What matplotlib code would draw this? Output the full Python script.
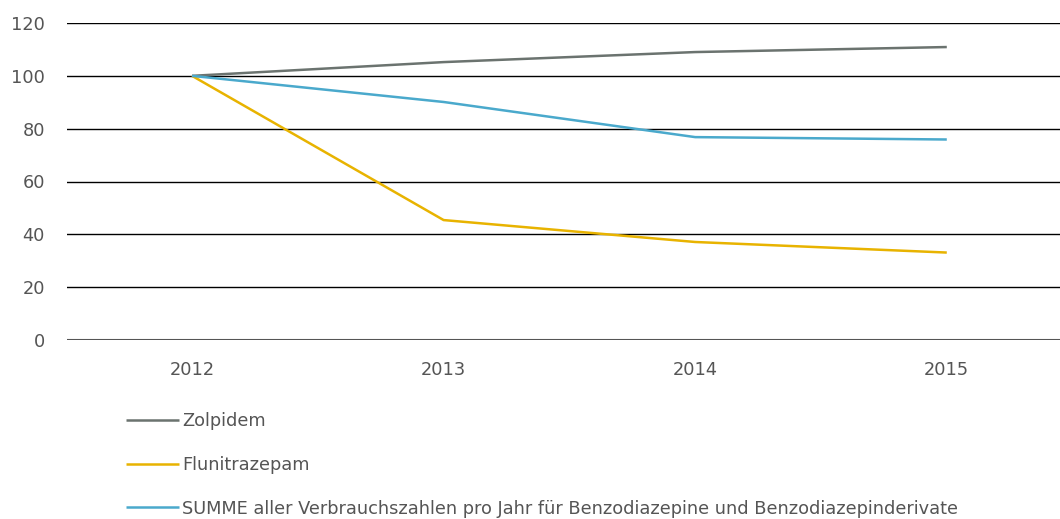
import matplotlib
matplotlib.use('Agg')
import matplotlib.pyplot as plt

years = ['2012', '2013', '2014', '2015']
zolpidem = [100, 105.2, 109.0, 110.9]
flunitrazepam = [100, 45.4, 37.1, 33.1]
summe = [100, 90.1, 76.8, 75.9]
labels = ['Zolpidem', 'Flunitrazepam',
          'SUMME aller Verbrauchszahlen pro Jahr für Benzodiazepine und Benzodiazepinderivate']
colors = ['#6b736f', '#e8b300', '#4aa9cc']

plt.rcParams['font.family'] = ['DejaVu Sans']

fig = plt.figure(figsize=(10.6, 5.19), dpi=100)
ax = fig.add_axes([67 / 1060, (519 - 340) / 519, 1 - 67 / 1060, (340 - 23) / 519])

x = range(len(years))
lines = []
for vals, c, lab in zip([zolpidem, flunitrazepam, summe], colors, labels):
    l, = ax.plot(x, vals, color=c, lw=1.8, label=lab, solid_capstyle='butt')
    lines.append(l)

ax.set_ylim(0, 120)
ax.set_xlim(-0.497, 3.45)
ax.set_yticks(range(0, 121, 20))
ax.set_xticks(list(x))
ax.set_xticklabels(years)
for yv in range(20, 121, 20):
    ax.axhline(yv, color='black', lw=1, zorder=0)
ax.axhline(0, color='#555555', lw=1.5, zorder=0)
for s in ax.spines.values():
    s.set_visible(False)
ax.tick_params(length=0, colors='#555555', labelsize=12.8)
ax.tick_params(axis='y', pad=16)
ax.tick_params(axis='x', pad=15)

fig.legend(handles=lines, loc='upper left', bbox_to_anchor=(110 / 1060, 1 - 396 / 519),
           frameon=False, fontsize=12.8, labelcolor='#555555',
           handlelength=3.0, handletextpad=0.15, labelspacing=1.45)

fig.savefig('out.png', dpi=100)
